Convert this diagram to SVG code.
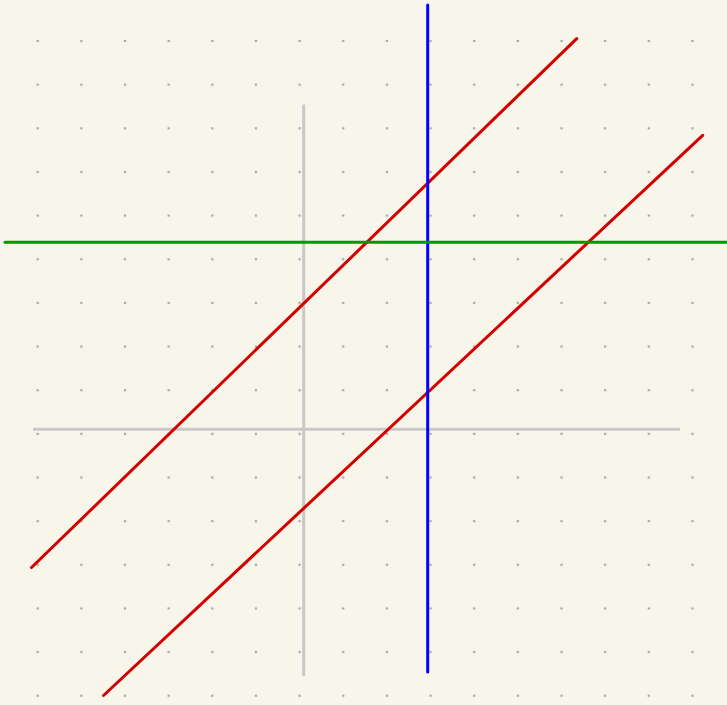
<svg xmlns="http://www.w3.org/2000/svg" width="727" height="705" viewBox="0 0 727 705">
<defs>
<pattern id="dots" x="37.7" y="41" width="43.65" height="43.65" patternUnits="userSpaceOnUse">
<circle cx="0" cy="0" r="1.3" fill="#aaa9a0"/>
<circle cx="43.65" cy="0" r="1.3" fill="#aaa9a0"/>
<circle cx="0" cy="43.65" r="1.3" fill="#aaa9a0"/>
<circle cx="43.65" cy="43.65" r="1.3" fill="#aaa9a0"/>
</pattern>
</defs>
<style>
.axis{stroke:#c8c8c8;stroke-width:3;fill:none}
.ln{stroke-width:3;fill:none;stroke-linecap:round}
</style>
<rect width="727" height="705" fill="#f8f6eb"/>
<rect x="30" y="35" width="675" height="670" fill="url(#dots)"/>
<g id="axes">
<line class="axis" x1="33" y1="429.3" x2="680" y2="429.3"/>
<line class="axis" x1="303.7" y1="104.5" x2="303.7" y2="676"/>
</g>
<g id="connectors">
<line id="red1" class="ln" stroke="#d40000" x1="31.5" y1="567.5" x2="576.7" y2="38.7"/>
<line id="red2" class="ln" stroke="#d40000" x1="103.5" y1="695.5" x2="702.7" y2="135.3"/>
<line id="blue" class="ln" stroke="#0000ff" stroke-linecap="butt" x1="427.7" y1="5" x2="427.7" y2="672"/>
<line id="green" class="ln" stroke="#009900" stroke-linecap="butt" x1="5" y1="242.3" x2="727" y2="242.3"/>
</g>
</svg>
